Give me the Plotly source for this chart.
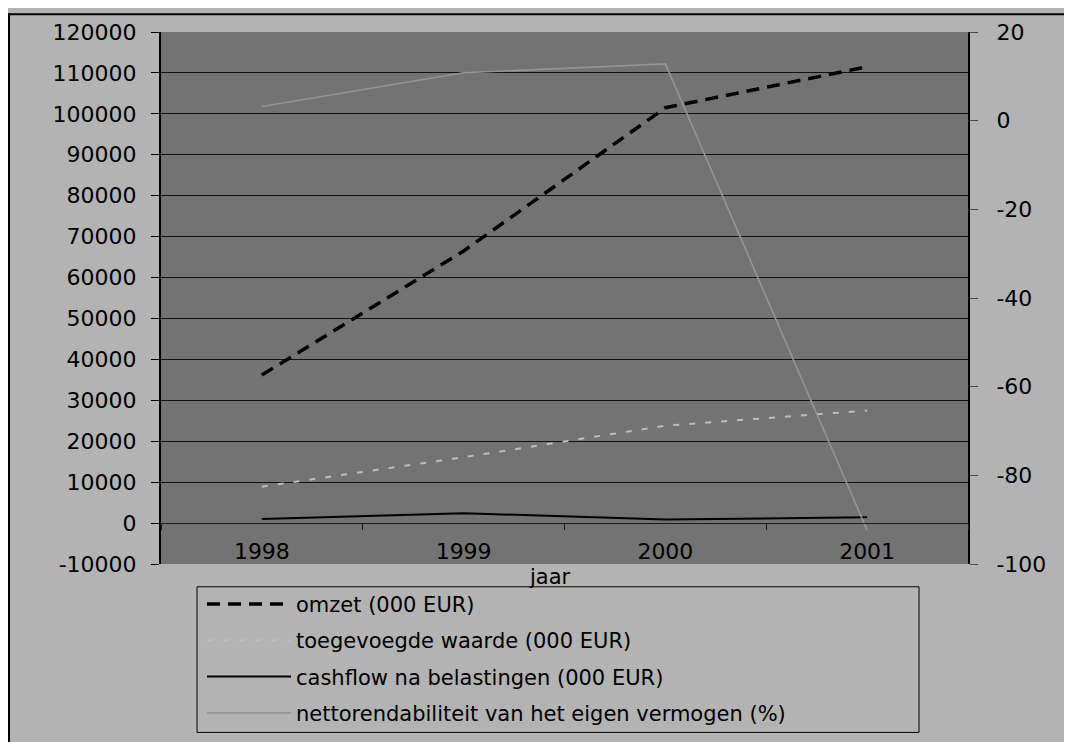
import plotly.graph_objects as go

years = ["1998", "1999", "2000", "2001"]
omzet = [36200, 66500, 101500, 111500]
toegevoegde_waarde = [8900, 16100, 23800, 27500]
cashflow = [1000, 2400, 900, 1400]
nettorendabiliteit = [3.2, 10.8, 12.8, -92.4]

names = [
    "omzet (000 EUR)",
    "toegevoegde waarde (000 EUR)",
    "cashflow na belastingen (000 EUR)",
    "nettorendabiliteit van het eigen vermogen (%)",
]

left_ticks = list(range(-10000, 120001, 10000))
right_ticks = list(range(-100, 21, 20))

# page coordinates (the page has an 8px body margin)
OFF = 8
W, H = 1072, 742
L, R, T, B = 161, 968, 27, 564
def px(x):
    return (x - L) / (R - L)
def py(y):
    return (B - y) / (B - T)

FONT = "DejaVu Sans"
OUTER = "#b3b3b3"
PLOTBG = "#737373"

fig = go.Figure()
fig.add_trace(go.Scatter(x=years, y=omzet, name=names[0], mode="lines",
                         line=dict(color="black", width=3.5, dash="13px,8px"),
                         legendgroup="a"))
fig.add_trace(go.Scatter(x=years, y=toegevoegde_waarde, name=names[1], mode="lines",
                         line=dict(color="#bdbdbd", width=2, dash="6px,10px"),
                         legendgroup="b"))
fig.add_trace(go.Scatter(x=years, y=cashflow, name=names[2], mode="lines",
                         line=dict(color="black", width=2), legendgroup="c"))
fig.add_trace(go.Scatter(x=years, y=nettorendabiliteit, name=names[3], mode="lines",
                         line=dict(color="#959595", width=1.6), yaxis="y2",
                         legendgroup="d"))

fig.update_layout(
    width=W, height=H,
    margin=dict(l=L - OFF, r=W - (R - OFF), t=T - OFF, b=H - (B - OFF), pad=0),
    paper_bgcolor=OUTER,
    plot_bgcolor=PLOTBG,
    font=dict(family=FONT, size=22, color="black"),
    showlegend=True,
    legend=dict(x=px(202), y=py(584), xanchor="left", yanchor="top",
                bgcolor="rgba(0,0,0,0)", borderwidth=0,
                font=dict(family=FONT, size=21, color="black"),
                itemwidth=84, tracegroupgap=6, traceorder="grouped"),
    xaxis=dict(type="category", categoryorder="array", categoryarray=years,
               range=[-0.5, 3.5], anchor="free", position=1 / 13,
               showline=True, linecolor="#1a1a1a", linewidth=1,
               ticks="outside", ticklen=6, tickcolor="#1a1a1a", tickwidth=1,
               tickson="boundaries", showgrid=False, zeroline=False,
               tickfont=dict(family=FONT, size=22, color="black"),
               ticklabelstandoff=9),
    yaxis=dict(range=[-10000, 120000], tickvals=left_ticks,
               ticktext=[str(v) for v in left_ticks],
               showgrid=True, gridcolor="#111111", gridwidth=1,
               zeroline=False, showline=True, linecolor="black", linewidth=2,
               ticks="outside", ticklen=8, tickcolor="black", tickwidth=1,
               tickfont=dict(family=FONT, size=22, color="black"),
               ticklabelstandoff=10),
    yaxis2=dict(range=[-100, 20], tickvals=right_ticks,
                ticktext=[str(v) for v in right_ticks],
                overlaying="y", side="right", showgrid=False, zeroline=False,
                showline=True, linecolor="black", linewidth=2,
                ticks="outside", ticklen=8, tickcolor="#4a4a4a", tickwidth=1,
                tickfont=dict(family=FONT, size=22, color="black"),
                ticklabelstandoff=14),
    shapes=[
        # chart frame lines (top and left edges)
        dict(type="line", xref="paper", yref="paper", x0=px(8), x1=px(W + 20),
             y0=py(9), y1=py(9), line=dict(color="black", width=2), layer="above"),
        dict(type="line", xref="paper", yref="paper", x0=px(9), x1=px(9),
             y0=py(8), y1=py(H + 20), line=dict(color="black", width=2), layer="above"),
        # legend frame
        dict(type="rect", xref="paper", yref="paper", x0=px(197), x1=px(919),
             y0=py(734), y1=py(587), line=dict(color="black", width=1),
             fillcolor="rgba(0,0,0,0)", layer="above"),
    ],
    annotations=[
        dict(text="jaar", xref="paper", yref="paper", x=px(550), y=py(577),
             xanchor="center", yanchor="middle", showarrow=False,
             font=dict(family=FONT, size=21, color="black")),
    ],
)

fig.write_html("out.html")
